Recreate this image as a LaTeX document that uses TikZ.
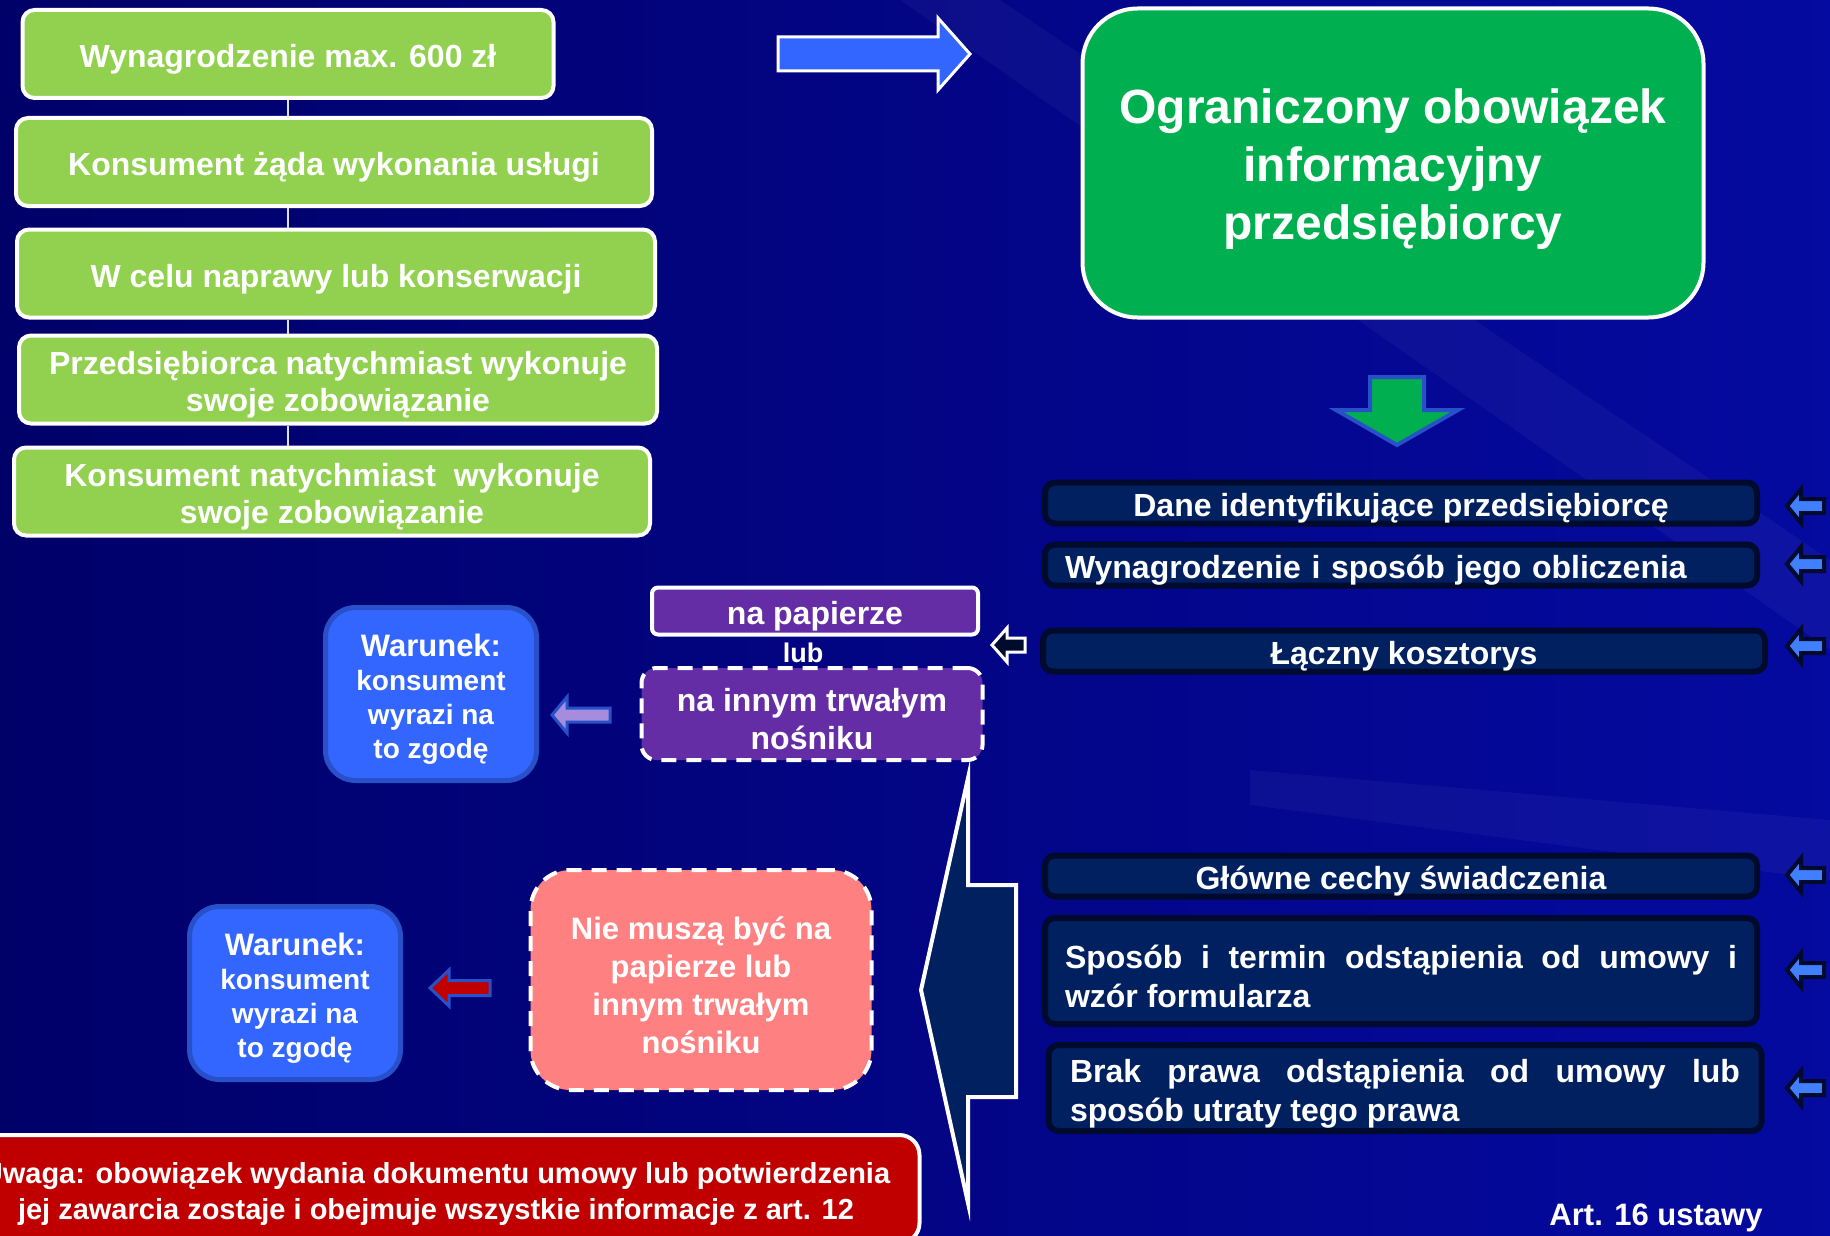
\documentclass[tikz,border=0pt]{standalone}
\usepackage{fontspec}
\setmainfont{Liberation Sans}
\usetikzlibrary{positioning}
\hyphenpenalty=10000
\exhyphenpenalty=10000

\definecolor{bgdark}{RGB}{0,0,105}
\definecolor{bgblue}{RGB}{5,10,160}
\definecolor{limegreen}{RGB}{146,208,80}
\definecolor{darkgreen}{RGB}{0,176,80}
\definecolor{navybox}{RGB}{0,32,96}
\definecolor{navyedge}{RGB}{0,10,45}
\definecolor{purplebox}{RGB}{100,45,165}
\definecolor{brightblue}{RGB}{51,102,255}
\definecolor{blueedge}{RGB}{40,80,200}
\definecolor{salmon}{RGB}{255,128,128}
\definecolor{darkred}{RGB}{192,0,0}
\definecolor{skyarrow}{RGB}{64,128,255}
\definecolor{lavender}{RGB}{166,140,220}

% taller first line, so the text sits a little lower in its box
\newcommand{\lowstrut}[1][1.06em]{\rule{0pt}{#1}}

\tikzstyle{greenbox} = [rectangle, rounded corners=12pt, minimum width=636pt, minimum height=88pt, inner ysep=3pt, align=center, draw=white, line width=4pt, fill=limegreen, text=white, font=\bfseries\fontsize{32}{37}\selectfont]
\tikzstyle{titlebox} = [rectangle, rounded corners=55pt, minimum width=621pt, minimum height=309pt, align=center, draw=white, line width=4pt, fill=darkgreen, text=white, font=\bfseries\fontsize{48}{58}\selectfont]
\tikzstyle{infobox} = [rectangle, rounded corners=10pt, minimum width=712pt, minimum height=41pt, inner xsep=2pt, inner ysep=0pt, draw=navyedge, line width=6pt, fill=navybox, text=white, font=\bfseries\fontsize{32}{39}\selectfont]
\tikzstyle{mediumbox} = [rectangle, inner sep=2pt, align=center, draw=white, line width=4pt, fill=purplebox, text=white, font=\bfseries\fontsize{32}{38}\selectfont]
\tikzstyle{conditionbox} = [rectangle, rounded corners=30pt, minimum width=211pt, minimum height=173pt, inner sep=2pt, align=center, draw=blueedge, line width=5pt, fill=brightblue, text=white, font=\bfseries\fontsize{28}{34}\selectfont]
\tikzstyle{dashedline} = [dash pattern=on 15pt off 10pt]
\tikzstyle{blockarrow} = [line width=3pt, line join=miter]
\tikzstyle{joinline} = [line width=1.5pt, draw=white!75!gray]

% left pointing block arrow: options, tip x, tip y, head length, total length, half head, half shaft
\newcommand{\blockleft}[7]{\draw[#1] (#2,#3) -- ++(#4,-#6) -- ++(0,#6-#7) -- ++(#5-#4,0) -- ++(0,2*#7) -- ++(#4-#5,0) -- ++(0,#6-#7) -- cycle;}

\begin{document}
\begin{tikzpicture}[x=1pt, y=-1pt, node distance=110pt]
        \useasboundingbox (0,0) rectangle (1830,1236);
        \clip (0,0) rectangle (1830,1236);
        \shade[left color=bgdark, right color=bgblue] (0,0) rectangle (1830,1236);
        \fill[white, opacity=0.04] (900,0) -- (1000,0) -- (1830,560) -- (1830,650) -- cycle;
        \fill[white, opacity=0.04] (1250,770) -- (1830,820) -- (1830,880) -- (1250,805) -- cycle;

        % left column
        \node (pay) [greenbox, minimum width=531pt] at (288,54) {\lowstrut Wynagrodzenie max. 600 zł};
        \node (request) [greenbox, below of=pay, xshift=46pt, yshift=2pt] {\lowstrut Konsument żąda wykonania usługi};
        \node (repair) [greenbox, below of=request, xshift=2pt, yshift=-1.5pt, minimum width=638pt] {\lowstrut W celu naprawy lub konserwacji};
        \node (provider) [greenbox, below of=repair, xshift=2pt, yshift=4pt, minimum width=638pt] {\lowstrut Przedsiębiorca natychmiast wykonuje\\swoje zobowiązanie};
        \node (consumer) [greenbox, below of=provider, xshift=-6pt, yshift=-2pt] {\lowstrut Konsument natychmiast\ \ wykonuje\\swoje zobowiązanie};
        \foreach \a/\b in {pay/request, request/repair, repair/provider, provider/consumer}
            \draw [joinline] (pay.south |- \a.south) -- (pay.south |- \b.north);

        \draw [blockarrow, fill=brightblue, draw=white] (970,54) -- (938,18) -- (938,37) -- (778,37) -- (778,71) -- (938,71) -- (938,90) -- cycle;
        \node (duty) [titlebox] at (1393,163) {\lowstrut[0.96em]Ograniczony obowiązek\\informacyjny\\przedsiębiorcy};
        \draw [blockarrow, line width=4pt, fill=darkgreen, draw=blueedge] (1397,445) -- (1336,410) -- (1370,410) -- (1370,377) -- (1424,377) -- (1424,410) -- (1458,410) -- cycle;

        % right column
        \node (identity) [infobox] at (1401,503) {\lowstrut Dane identyfikujące przedsiębiorcę};
        \node (price) [infobox, text width=672pt, align=left] at (1401,565) {\lowstrut Wynagrodzenie i sposób jego obliczenia};
        \node (estimate) [infobox, minimum width=722pt] at (1404,651) {\lowstrut Łączny kosztorys};
        \node (features) [infobox] at (1401,876) {\lowstrut Główne cechy świadczenia};
        \node (withdrawal) [infobox, minimum height=106pt, text width=672pt, align=justify] at (1401,971) {\lowstrut Sposób i termin odstąpienia od umowy i wzór formularza};
        \node (nowithdrawal) [infobox, minimum width=713pt, minimum height=86pt, text width=670pt, align=justify] at (1405,1088) {\lowstrut Brak prawa odstąpienia od umowy lub sposób utraty tego prawa};
        \foreach \y in {506,564,646,875,970,1088}
            {\blockleft{blockarrow, line width=4pt, fill=skyarrow, draw=navyedge}{1787}{\y}{14}{37}{17}{7}}

        % medium
        \node (paper) [mediumbox, rounded corners=6pt, minimum width=326pt, minimum height=47pt] at (815,611) {\lowstrut na papierze};
        \node (or) [text=white, font=\bfseries\fontsize{27}{30}\selectfont] at (803,653) {lub};
        \node (durable) [mediumbox, dashedline, rounded corners=15pt, minimum width=341pt, minimum height=92pt] at (812,714) {\lowstrut na innym trwałym\\nośniku};
        \blockleft{blockarrow, fill=navyedge, draw=white}{992}{645}{15}{33}{17}{7}
        \node (consent) [conditionbox] at (431,694) {{\fontsize{31}{34}\selectfont\lowstrut Warunek:}\\konsument\\wyrazi na\\to zgodę};
        \blockleft{blockarrow, fill=lavender, draw=blueedge}{552}{715}{15}{58}{18}{7}

        % lower part
        \draw [line width=4pt, line join=miter, fill=navybox, draw=white] (968,778) -- (968,885) -- (1016,885) -- (1016,1097) -- (968,1097) -- (968,1203) -- (921,990) -- cycle;
        \node (nomedium) [rectangle, rounded corners=40pt, minimum width=341pt, minimum height=220pt, align=center, draw=white, line width=4pt, dashedline, fill=salmon, text=white, font=\bfseries\fontsize{31}{38}\selectfont] at (701,980) {\lowstrut Nie muszą być na\\papierze lub\\innym trwałym\\nośniku};
        \node (consent2) [conditionbox] at (295,993) {{\fontsize{31}{34}\selectfont\lowstrut Warunek:}\\konsument\\wyrazi na\\to zgodę};
        \blockleft{blockarrow, fill=darkred, draw=blueedge}{430}{988}{19}{60}{18}{7.5}
        \node (note) [rectangle, rounded corners=20pt, minimum width=967pt, minimum height=108pt, align=center, draw=white, line width=4pt, fill=darkred, text=white, font=\bfseries\fontsize{29}{36}\selectfont] at (436,1189) {\lowstrut Uwaga: obowiązek wydania dokumentu umowy lub potwierdzenia\\jej zawarcia zostaje i obejmuje wszystkie informacje z art. 12};
        \node (art) [text=white, font=\bfseries\fontsize{31}{36}\selectfont] at (1656,1212) {\lowstrut Art. 16 ustawy};
\end{tikzpicture}
\end{document}
